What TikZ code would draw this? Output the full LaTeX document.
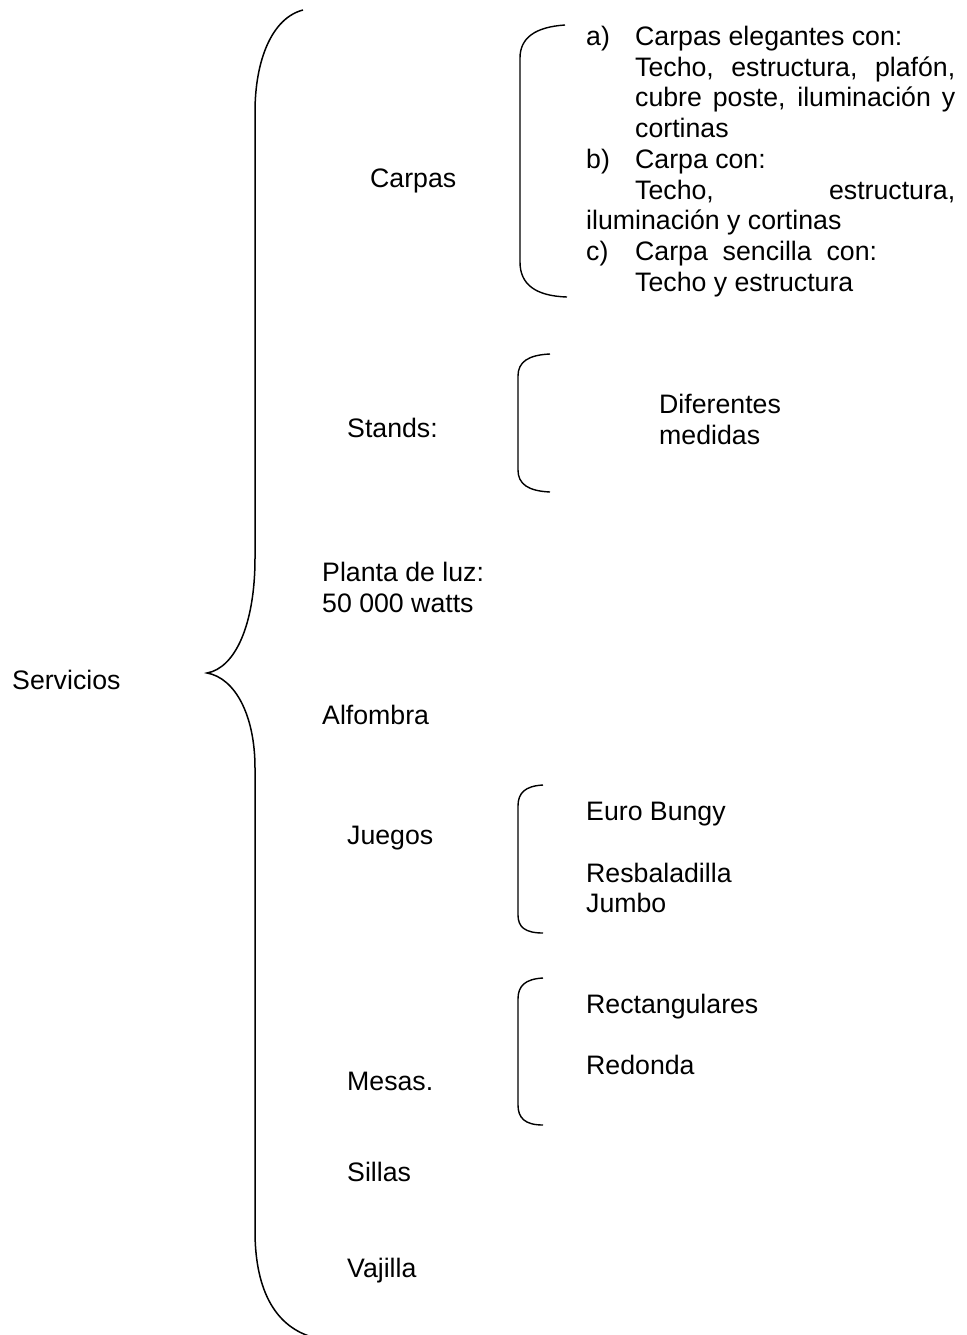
\documentclass[tikz,border=0pt]{standalone}
\usepackage{fontspec}
\setmainfont{Liberation Sans}
\usetikzlibrary{positioning}
\tikzset{
  entry text/.style={anchor=base west, inner sep=0pt, text=black,
    font=\fontsize{26.7}{30.7}\selectfont},
  main brace/.style={draw=black, line width=1.5pt},
  sub brace/.style={draw=black, line width=1.4pt},
}
\newcommand{\justline}[1]{\makebox[320pt][s]{#1}}
\newcommand{\itemtag}[1]{\makebox[49pt][l]{#1}}

\begin{document}
\begin{tikzpicture}[x=1pt, y=-1pt]
  \useasboundingbox (0,0) rectangle (966,1335);

  % the large brace that gathers every service
  \draw[main brace] (303,10) .. controls (272,18) and (255,60) .. (255,112)
    -- (255,558) .. controls (255,625) and (235,668) .. (207,673)
    .. controls (235,678) and (255,715) .. (255,768)
    -- (255,1231) .. controls (255,1285) and (272,1325) .. (312,1337);

  % the smaller braces, one per detailed service
  \draw[sub brace] (565,25) .. controls (535,27) and (520,38) .. (520,58)
    -- (520,262) .. controls (520,284) and (535,296) .. (567,297);
  \draw[sub brace] (550,354) .. controls (528,355) and (518,362) .. (518,376)
    -- (518,470) .. controls (518,484) and (528,491) .. (550,492);
  \draw[sub brace] (543,785) .. controls (525,786) and (518,793) .. (518,806)
    -- (518,915) .. controls (518,927) and (525,933) .. (543,933);
  \draw[sub brace] (543,978) .. controls (525,979) and (518,986) .. (518,999)
    -- (518,1105) .. controls (518,1118) and (525,1125) .. (543,1125);

  \node[entry text] (servicios) at (12,689) {Servicios};

  \node[entry text] (carpas) at (370,187.5) {Carpas};
  \node[entry text] (carpaA) at (586,45.5) {\itemtag{a)}Carpas elegantes con:};
  \node[entry text] (carpaA1) at (635,76.2) {\justline{Techo, estructura, plafón,}};
  \node[entry text] (carpaA2) at (635,106.9) {\justline{cubre poste, iluminación y}};
  \node[entry text] (carpaA3) at (635,137.6) {cortinas};
  \node[entry text] (carpaB) at (586,168.3) {\itemtag{b)}Carpa con:};
  \node[entry text] (carpaB1) at (635,199) {\justline{Techo, estructura,}};
  \node[entry text] (carpaB2) at (586,229.7) {iluminación y cortinas};
  \node[entry text] (carpaC) at (586,260.4) {\itemtag{c)}Carpa\ \ sencilla\ \ con:};
  \node[entry text] (carpaC1) at (635,291.1) {Techo y estructura};

  \node[entry text] (stands) at (347,437.5) {Stands:};
  \node[entry text] (medidas) at (659,413.5) {Diferentes};
  \node[entry text] (medidas2) at (659,444.2) {medidas};

  \node[entry text] (planta) at (322,581.5) {Planta de luz:};
  \node[entry text] (watts) at (322,612.2) {50 000 watts};

  \node[entry text] (alfombra) at (322,724.5) {Alfombra};

  \node[entry text] (juegos) at (347,844.5) {Juegos};
  \node[entry text] (bungy) at (586,820.5) {Euro Bungy};
  \node[entry text] (resbala) at (586,882) {Resbaladilla};
  \node[entry text] (jumbo) at (586,912.7) {Jumbo};

  \node[entry text] (mesas) at (347,1090.5) {Mesas.};
  \node[entry text] (rectang) at (586,1013.5) {Rectangulares};
  \node[entry text] (redonda) at (586,1074.5) {Redonda};

  \node[entry text] (sillas) at (347,1181.5) {Sillas};
  \node[entry text] (vajilla) at (347,1277.5) {Vajilla};
\end{tikzpicture}
\end{document}
